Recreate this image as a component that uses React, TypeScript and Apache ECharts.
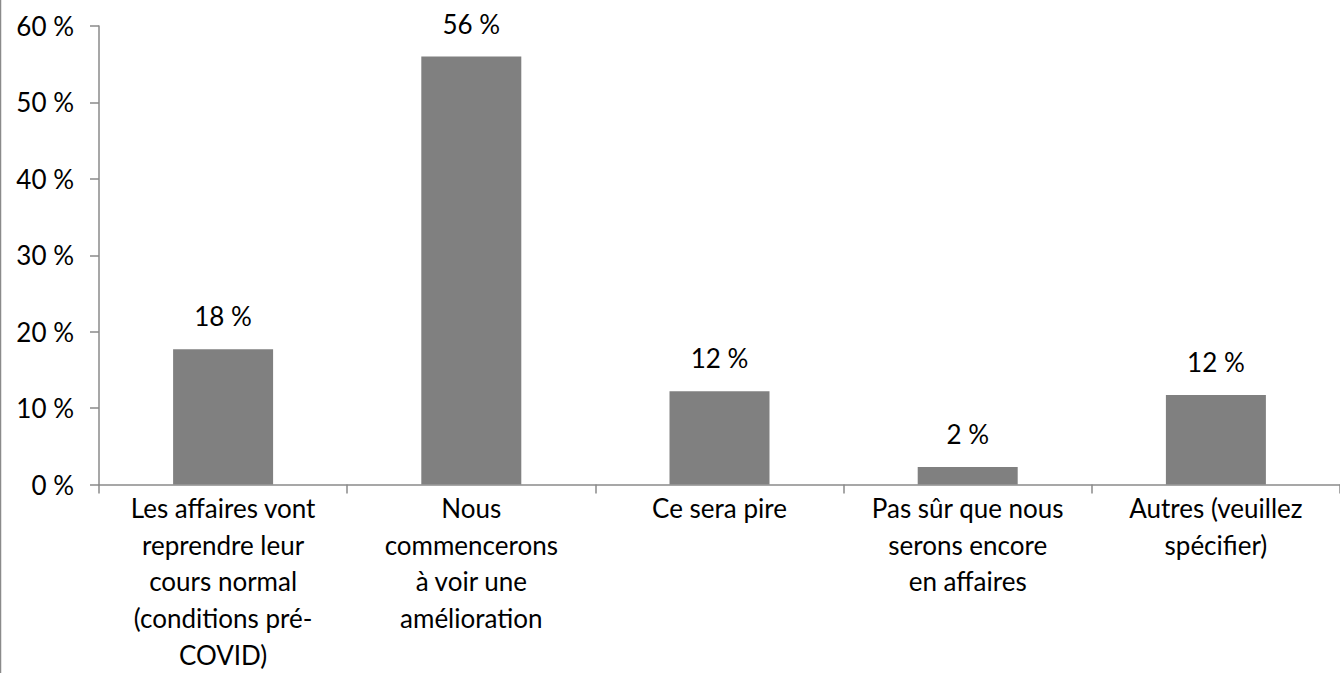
import React, { useEffect, useRef } from "react";
import * as echarts from "echarts";

const categories = [
  "Les affaires vont\nreprendre leur\ncours normal\n(conditions pré-\nCOVID)",
  "Nous\ncommencerons\nà voir une\namélioration",
  "Ce sera pire",
  "Pas sûr que nous\nserons encore\nen affaires",
  "Autres (veuillez\nspécifier)",
];
const values = [17.7, 56.0, 12.2, 2.3, 11.7];
const yTicks = { min: 0, max: 60, interval: 10 };

const FONT = "Lato";
const AXIS_COLOR = "#8a8a8a";

export default function App() {
  const ref = useRef<HTMLDivElement>(null);
  useEffect(() => {
    if (!ref.current) return;
    const chart = echarts.init(ref.current, undefined, { renderer: "svg" });
    chart.setOption({
      animation: false,
      backgroundColor: "#ffffff",
      textStyle: { fontFamily: FONT },
      grid: { left: 99, right: -6.5, top: 26, bottom: 183.5, containLabel: false },
      xAxis: {
        type: "category",
        data: categories,
        axisLine: { lineStyle: { color: AXIS_COLOR, width: 1.5 } },
        axisTick: { show: true, length: 9, lineStyle: { color: AXIS_COLOR, width: 1.5 } },
        axisLabel: {
          interval: 0,
          color: "#000",
          fontSize: 26,
          fontFamily: FONT,
          lineHeight: 36.7,
          margin: 5,
          align: "center",
        },
      },
      yAxis: {
        type: "value",
        min: yTicks.min,
        max: yTicks.max,
        interval: yTicks.interval,
        splitLine: { show: false },
        axisLine: { show: true, lineStyle: { color: AXIS_COLOR, width: 1.5 } },
        axisTick: { show: true, length: 9, lineStyle: { color: AXIS_COLOR, width: 1.5 } },
        axisLabel: {
          color: "#000",
          fontSize: 26,
          fontFamily: FONT,
          margin: 25,
          formatter: (v: number) => `${Math.round(v)} %`,
        },
      },
      series: [
        {
          type: "bar",
          data: values,
          barWidth: 100,
          itemStyle: { color: "#808080" },
          label: {
            show: true,
            position: "top",
            distance: 20,
            color: "#000",
            fontSize: 26,
            fontFamily: FONT,
            formatter: (p: any) => `${Math.round(p.value)} %`,
          },
        },
      ],
      graphic: [
        {
          type: "line",
          shape: { x1: 0.5, y1: 0, x2: 0.5, y2: 673 },
          style: { stroke: "#8a8a8a", lineWidth: 1.5 },
        },
      ],
    });
    return () => chart.dispose();
  }, []);
  return (
    <div
      ref={ref}
      style={{ position: "fixed", left: 0, top: 0, width: 1340, height: 673, background: "#fff" }}
    />
  );
}
